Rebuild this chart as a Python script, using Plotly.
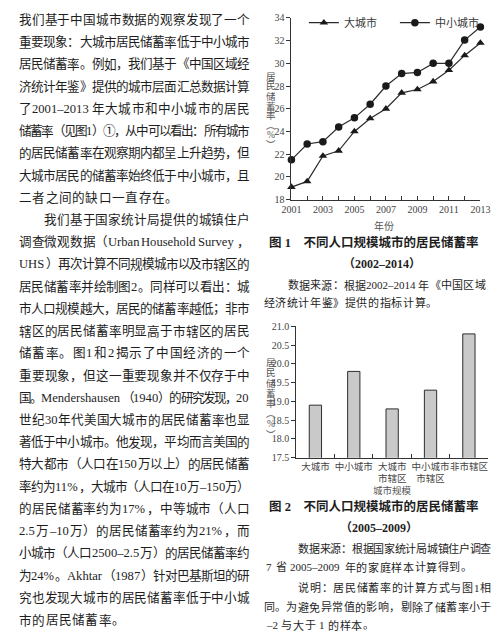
import re
import plotly.graph_objects as go

# the page body adds an 8px margin, so the figure is drawn 8px smaller
# and every position below is given in screen pixels, then shifted
OFF = 8
W, H = 492, 628

# ---- data ----
years = list(range(2001, 2014))
big_city = [19.1, 19.6, 21.85, 22.3, 24.0, 25.15, 26.0, 27.4, 27.7, 28.4, 29.4, 30.7, 31.8]
small_city = [21.5, 22.9, 23.1, 24.4, 25.2, 26.4, 28.0, 29.1, 29.2, 30.0, 30.0, 32.05, 33.2]
year_labels = [str(y) if y % 2 == 1 else '' for y in years]

bar_cats = ['大城市', '中小城市', '大城市<br>市辖区', '中小城市<br>市辖区', '非市辖区']
bar_vals = [18.9, 19.8, 18.8, 19.3, 20.8]

body_lines = [
    '我们基于中国城市数据的观察发现了一个',
    '重要现象：大城市居民储蓄率低于中小城市',
    '居民储蓄率。例如，我们基于《中国区域经',
    '济统计年鉴》提供的城市层面汇总数据计算',
    '了 2001–2013 年大城市和中小城市的居民',
    '储蓄率（见图 1）①，从中可以看出：所有城市',
    '的居民储蓄率在观察期内都呈上升趋势，但',
    '大城市居民的储蓄率始终低于中小城市，且',
    '二者之间的缺口一直存在。',
    '我们基于国家统计局提供的城镇住户',
    '调查微观数据（Urban Household Survey，',
    'UHS）再次计算不同规模城市以及市辖区的',
    '居民储蓄率并绘制图 2。同样可以看出：城',
    '市人口规模越大，居民的储蓄率越低；非市',
    '辖区的居民储蓄率明显高于市辖区的居民',
    '储蓄率。图 1 和 2 揭示了中国经济的一个',
    '重要现象，但这一重要现象并不仅存于中',
    '国。Mendershausen（1940）的研究发现，20',
    '世纪 30 年代美国大城市的居民储蓄率也显',
    '著低于中小城市。他发现，平均而言美国的',
    '特大都市（人口在 150 万以上）的居民储蓄',
    '率约为 11%，大城市（人口在 10 万–150 万）',
    '的居民储蓄率约为 17%，中等城市（人口',
    '2.5 万–10 万）的居民储蓄率约为 21%，而',
    '小城市（人口 2500–2.5 万）的居民储蓄率约',
    '为 24%。Akhtar（1987）针对巴基斯坦的研',
    '究也发现大城市的居民储蓄率低于中小城',
    '市的居民储蓄率。',
]
# lines that end a paragraph are not stretched
last_lines = {8, 27}
indent_lines = {9}

FAM = 'Liberation Serif, Noto Sans CJK SC'
TXT = '#1e1e1e'
GREY = '#3a3a3a'

LAT = r'[A-Za-z0-9.%–\-]+'
lat_w = {'.': .25, '%': .83, '–': .5, '-': .33, 'i': .28, 'l': .28, 't': .28,
         'r': .33, 's': .39, 'a': .44, 'c': .44, 'e': .44, 'M': .89}


def tok_width(t, fs):
    if re.fullmatch(LAT, t):
        w = 0
        for ch in t:
            if ch.isdigit():
                w += .5
            elif ch in lat_w:
                w += lat_w[ch]
            elif ch.isupper():
                w += .7
            else:
                w += .5
        return w * fs * 1.08
    return fs


def px_(x):
    return (x - OFF) / W


def py(y):
    return 1 - (y - OFF) / H


annotations = []


def place_line(text, x0, x1, y, fs, justify=True):
    toks = re.findall(LAT + r'|\S', text)
    widths = [tok_width(t, fs) for t in toks]
    if justify and len(toks) > 1:
        gap = (x1 - x0 - sum(widths)) / (len(toks) - 1)
    else:
        gap = fs * 0.1
    x = x0
    for t, w in zip(toks, widths):
        pad = fs * 0.25 if re.fullmatch(LAT, t) and not justify else 0
        x += pad
        annotations.append(dict(
            x=px_(x), y=py(y), xref='paper', yref='paper', text=t,
            showarrow=False, xanchor='left', yanchor='middle', borderpad=0,
            font=dict(family=FAM, size=fs, color=TXT)))
        x += w + gap + pad


# left column body text
for i, line in enumerate(body_lines):
    y = 13 + 22.7 * i
    x0 = 34 if i in indent_lines else 8
    place_line(line, x0, 248, y, 12.6, justify=i not in last_lines)

# right column notes
place_line('数据来源：根据 2002–2014 年《中国区域', 288, 494, 284, 11)
place_line('经济统计年鉴》提供的指标计算。', 263, 500, 302, 11, justify=False)
place_line('数据来源：根据国家统计局城镇住户调查', 299, 500, 553, 11)
place_line('7 省 2005–2009 年的家庭样本计算得到。', 263, 500, 572, 11, justify=False)
place_line('说明：居民储蓄率的计算方式与图 1 相', 299, 500, 593, 11)
place_line('同。为避免异常值的影响，剔除了储蓄率小于', 263, 500, 613, 11)
place_line('–2 与大于 1 的样本。', 263, 500, 631, 11, justify=False)


def centered(text, x, y, fs, color=TXT):
    annotations.append(dict(
        x=px_(x), y=py(y), xref='paper', yref='paper', text=text,
        showarrow=False, xanchor='center', yanchor='middle', borderpad=0,
        font=dict(family=FAM, size=fs, color=color)))


# captions
centered('<b>图 1　不同人口规模城市的居民储蓄率</b>', 379, 240, 12.5)
centered('<b>（2002–2014）</b>', 387, 262, 12)
centered('<b>图 2　不同人口规模城市的居民储蓄率</b>', 379, 510, 12.5)
centered('<b>（2005–2009）</b>', 384, 532, 12)

# axis titles
centered('年份', 389, 223, 10, '#555')
centered('城市规模', 398, 494, 9.5, '#555')


def vertical(text, x, y0, pitch, fs):
    for k, ch in enumerate(text):
        centered(ch, x, y0 + k * pitch, fs, '#555')


vertical('居民储蓄率︵%︶', 272, 71, 10, 9.5)
vertical('居民储蓄率︵%︶', 272, 363, 10.5, 9.5)

fig = go.Figure()
fig.add_trace(go.Scatter(
    x=years, y=big_city, name='大城市', mode='lines+markers',
    line=dict(color='#2b2b2b', width=1.2),
    marker=dict(symbol='triangle-up', size=7.5, color='#1a1a1a'),
    cliponaxis=False, xaxis='x', yaxis='y'))
fig.add_trace(go.Scatter(
    x=years, y=small_city, name='中小城市', mode='lines+markers',
    line=dict(color='#2b2b2b', width=1.2),
    marker=dict(symbol='circle', size=7.5, color='#1a1a1a'),
    cliponaxis=False, xaxis='x', yaxis='y'))
fig.add_trace(go.Bar(
    x=bar_cats, y=bar_vals, width=0.32, showlegend=False,
    marker=dict(color='#c9c9c9', line=dict(color='#2e2e2e', width=1)),
    xaxis='x2', yaxis='y2'))

axis_common = dict(showline=True, linecolor='#333', linewidth=1, showgrid=False,
                   zeroline=False, tickcolor='#333', ticklen=4)

fig.update_layout(
    width=W, height=H,
    margin=dict(l=0, r=0, t=0, b=0),
    paper_bgcolor='white', plot_bgcolor='white',
    showlegend=True,
    legend=dict(orientation='h', x=px_(306), y=py(1), xanchor='left', yanchor='top',
                font=dict(family=FAM, size=11, color=GREY), bgcolor='rgba(0,0,0,0)',
                entrywidth=46, entrywidthmode='pixels', tracegroupgap=0),
    xaxis=dict(domain=[px_(293), px_(490)], range=[2001, 2013], anchor='y',
               tickmode='array', tickvals=years, ticktext=year_labels, ticks='inside',
               tickfont=dict(family='Liberation Serif', size=10, color='#444'),
               **axis_common),
    yaxis=dict(domain=[py(196.5), py(11)], range=[18, 34], anchor='x', dtick=2,
               ticks='outside',
               tickfont=dict(family='Liberation Serif', size=10, color='#444'),
               **axis_common),
    xaxis2=dict(domain=[px_(298), px_(498)], range=[-0.5, 4.5], anchor='y2',
                type='category', tickson='boundaries', ticks='inside', tickangle=0,
                tickfont=dict(family='Noto Sans CJK SC', size=9.5, color='#444'),
                **axis_common),
    yaxis2=dict(domain=[py(460), py(326)], range=[17.5, 21.0], anchor='x2',
                dtick=0.5, tickformat='.1f', ticks='outside',
                tickfont=dict(family='Liberation Serif', size=10, color='#444'),
                **axis_common),
    annotations=annotations,
)

fig.write_html('out.html')
